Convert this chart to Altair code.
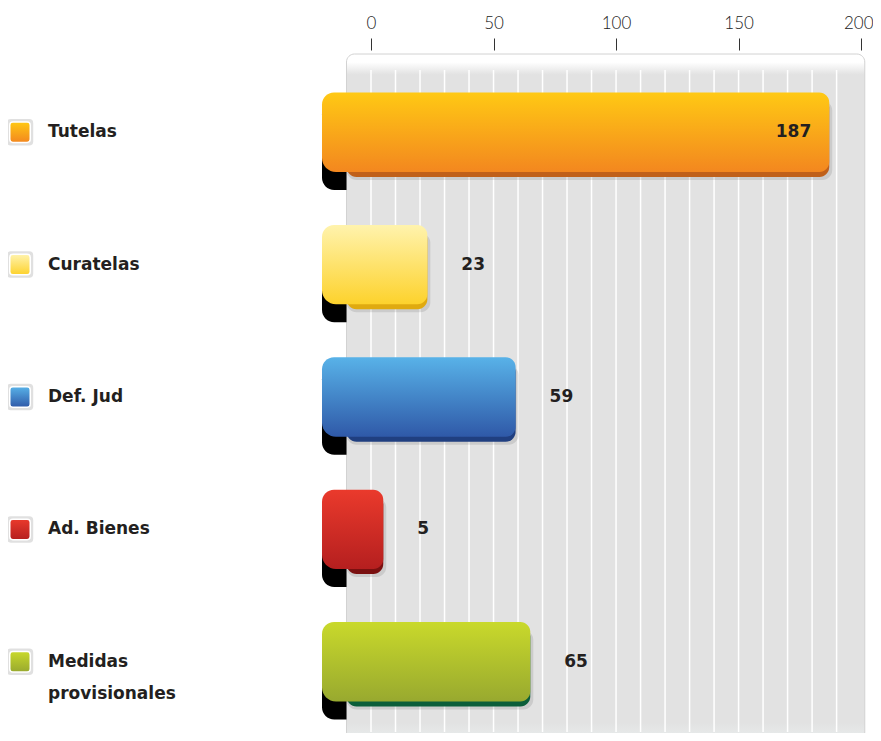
import altair as alt
import pandas as pd

categories = ["Tutelas", "Curatelas", "Def. Jud", "Ad. Bienes", "Medidas provisionales"]
values = [187, 23, 59, 5, 65]
label_line1 = ["Tutelas", "Curatelas", "Def. Jud", "Ad. Bienes", "Medidas"]
label_line2 = ["", "", "", "", "provisionales"]
x_ticks = [0, 50, 100, 150, 200]
grid_values = [0, 10, 20, 30, 40, 50, 60, 70, 80, 90, 100, 110, 120, 130, 140, 150, 160, 170, 180, 190]

top_colors = ["#ffc914", "#fff3ad", "#58b2e8", "#ea3a2c", "#c9d92b"]
bottom_colors = ["#f3871f", "#fdd22c", "#2f59a8", "#b51f1f", "#98a92f"]
edge_colors = ["#c0601a", "#e0aa10", "#203f80", "#7a1010", "#0b5e3a"]

W, H = 544, 662
FONT = "Lato"
LFONT = "DejaVu Sans"

df = pd.DataFrame({
    "category": categories,
    "value": values,
    "line1": label_line1,
    "line2": label_line2,
})
grid_df = pd.DataFrame({"g": grid_values})

xscale = alt.Scale(domain=[-20, 202], nice=False, zero=False)
AX = alt.Axis(orient="top", values=x_ticks, domain=False, grid=False,
              ticks=True, tickSize=12, tickColor="#333333", tickWidth=1,
              labelFont=FONT, labelFontSize=17, labelFontWeight=300, labelColor="#222222",
              labelPadding=6, offset=16, title=None,
              labelFlush=10, labelFlushOffset=12)


def X(field):
    return alt.X(field, scale=xscale, axis=AX, title=None)


def D(v):
    return alt.datum(v, scale=xscale, axis=AX, title=None)


Y = alt.Y("category:N", sort=categories,
          scale=alt.Scale(paddingInner=0.4, paddingOuter=0.2), axis=None)


def grad(c1, c2):
    return alt.Gradient(gradient="linear",
                        stops=[alt.GradientStop(color=c1, offset=0),
                               alt.GradientStop(color=c2, offset=1)],
                        x1=0, x2=0, y1=0, y2=1)


panel_fill = alt.Gradient(gradient="linear",
                          stops=[alt.GradientStop(color="#ffffff", offset=0),
                                 alt.GradientStop(color="#ffffff", offset=0.012),
                                 alt.GradientStop(color="#e2e2e2", offset=0.03),
                                 alt.GradientStop(color="#e2e2e2", offset=0.975),
                                 alt.GradientStop(color="#e9eded", offset=1)],
                          x1=0, x2=0, y1=0, y2=1)

panel = alt.Chart(pd.DataFrame({"p": [0]})).mark_rect(
    fill=panel_fill, stroke="#d2d2d2", strokeWidth=1, cornerRadius=8
).encode(
    x=D(-10), x2=alt.datum(201.5),
    y=alt.value(-12), y2=alt.value(H + 12)
)

grid = alt.Chart(grid_df).mark_rule(color="white", strokeWidth=1.5).encode(
    x=X("g:Q"),
    y=alt.value(4), y2=alt.value(H + 4)
)

layers = [panel, grid]

SQ = "M-0.7,-1L0.7,-1Q1,-1 1,-0.7L1,0.7Q1,1 0.7,1L-0.7,1Q-1,1 -1,0.7L-1,-0.7Q-1,-1 -0.7,-1Z"

base = alt.Chart(df)
for i, cat in enumerate(categories):
    sub = base.transform_filter(alt.datum.category == cat)
    shadow = sub.mark_bar(color="#000000", opacity=0.10, cornerRadius=10,
                          yOffset=8, xOffset=3).encode(
        x=X("value:Q"), x2=alt.datum(-10), y=Y)
    edge = sub.mark_bar(color=edge_colors[i], cornerRadius=10, yOffset=5).encode(
        x=X("value:Q"), x2=alt.datum(-10), y=Y)
    curl = sub.mark_bar(color="#000000", cornerRadiusBottomLeft=16,
                        cornerRadiusTopLeft=4, yOffset=18).encode(
        x=D(-20), x2=alt.datum(-10), y=Y)
    main = sub.mark_bar(color=grad(top_colors[i], bottom_colors[i]),
                        cornerRadiusTopLeft=12, cornerRadiusTopRight=10,
                        cornerRadiusBottomRight=10, cornerRadiusBottomLeft=14).encode(
        x=X("value:Q"), x2=alt.datum(-20), y=Y)
    sq_shadow = sub.mark_point(shape=SQ, size=700, filled=True, color="#000000",
                               opacity=0.12).encode(x=alt.value(-302), y=Y)
    sq = sub.mark_point(shape=SQ, size=420, filled=True,
                        fill=grad(top_colors[i], bottom_colors[i]),
                        stroke="white", strokeWidth=1.5, opacity=1).encode(
        x=alt.value(-302), y=Y)
    layers += [shadow, edge, curl, main, sq_shadow, sq]

text_style = dict(font=LFONT, fontWeight="bold", fontSize=17, color="#231f20", baseline="middle")

val_out = base.transform_filter("datum.value < 150").mark_text(align="left", dx=34, **text_style).encode(
    x=X("value:Q"), y=Y, text="value:Q")
val_in = base.transform_filter("datum.value >= 150").mark_text(align="right", dx=-18, **text_style).encode(
    x=X("value:Q"), y=Y, text="value:Q")
leg1 = base.mark_text(align="left", **text_style).encode(
    x=alt.value(-274), y=Y, text="line1:N")
leg2 = base.mark_text(align="left", dy=32, **text_style).encode(
    x=alt.value(-274), y=Y, text="line2:N")

layers += [val_out, val_in, leg1, leg2]

chart = alt.layer(*layers).properties(
    width=W, height=H,
    padding={"left": 314, "top": 58, "right": 7, "bottom": 5},
    autosize=alt.AutoSizeParams(type="none"),
    background="white",
).configure_view(stroke=None)

chart.save("out.html", embed_options={"renderer": "svg", "actions": False})
